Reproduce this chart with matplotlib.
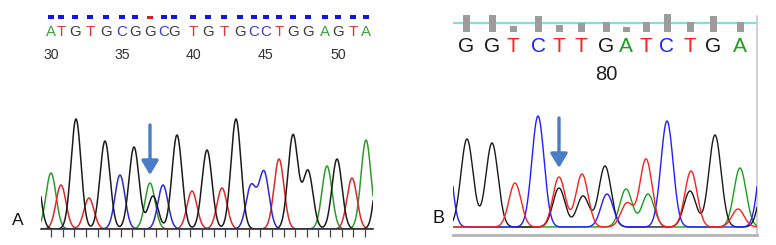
import numpy as np
import matplotlib
matplotlib.use("Agg")
import matplotlib.pyplot as plt
from matplotlib.transforms import blended_transform_factory as btf

W, H = 776, 245

# ---------------- Panel A data ----------------
a_seq = list("ATGTGCGGCGTGTGCCTGGAGTA")
a_base_pos = [10, 20, 34, 49, 65, 81, 94, 109, 123, 133, 152, 167, 183, 199,
              213, 225, 238, 252, 267, 284, 297, 312, 325]
a_qual = [40] * 7 + [25] + [40] * 15
a_numbers = [30, 35, 40, 45, 50]
a_number_idx = [0, 5, 10, 15, 20]

a_peaks_G = [-6, 35, 64, 93, 112, 136, 166, 195, 252, 267, 296, 340]
a_heights_G = [66, 110, 88, 82, 33, 94, 79, 110, 94, 58, 70, 100]
a_peaks_A = [10, 109, 286, 325]
a_heights_A = [56, 46, 63, 89]
a_peaks_T = [20, 48, 151, 181, 238, 311]
a_heights_T = [44, 31, 38, 41, 70, 51]
a_peaks_C = [79, 122, 210, 223]
a_heights_C = [54, 44, 43, 57]
a_ticks = [10, 21.6, 33.3, 44.9, 56.5, 68.1, 79.8, 91.4, 103, 114.7, 126.3,
           137.9, 149.5, 161.2, 172.8, 184.4, 196.1, 207.7, 219.3, 230.9,
           242.6, 254.2, 265.8, 277.4, 289.1, 300.7, 312.3, 324]
a_arrow_x = 109

# ---------------- Panel B data ----------------
b_seq = list("GGTCTTGATCTGA")
b_base_pos = [13, 39, 60, 85, 106, 128, 153, 173, 193, 214, 237, 260, 287]
b_qual = [43, 43, 15, 40, 18, 23, 25, 14, 25, 45, 25, 40, 25]
b_qual_threshold = 24
b_number = 80
b_number_idx = 6

b_peaks_G = [14, 39, 106, 130, 152, 237, 262, 313]
b_heights_G = [88, 84, 39, 31, 61, 36, 92, 58]
b_peaks_T = [62, 106, 129, 174, 193, 238, 285]
b_heights_T = [44, 50, 53, 24, 68, 56, 18]
b_peaks_C = [-9, 85, 154, 214, 312]
b_heights_C = [120, 111, 33, 106, 95]
b_peaks_A = [173, 195, 287]
b_heights_A = [38, 33, 59]
b_arrow_x = 106

# ---------------- styling ----------------
colA = {"A": "#2e9a2e", "C": "#2a2ad8", "G": "#1c1c1c", "T": "#e02828"}
colA_txt = {"A": "#3aa03a", "C": "#3a3ad0", "G": "#3c3c3c", "T": "#e03434"}
colB = {"A": "#1aa01a", "C": "#1f1fff", "G": "#1a1a1a", "T": "#ff1f1f"}
arrow_col = "#4a7cc8"


def trace(x, centers, heights, sigma):
    y = np.zeros_like(x)
    for c, h in zip(centers, heights):
        y += h * np.exp(-(x - c) ** 2 / (2 * sigma ** 2))
    return y


fig = plt.figure(figsize=(W / 100, H / 100), dpi=100)
fig.patch.set_facecolor("white")


def px_axes(left, right, top, bottom):
    return fig.add_axes([left / W, 1 - bottom / H, (right - left) / W, (bottom - top) / H])


def fy(py):
    return 1 - py / H


# ================= Panel A =================
axA = px_axes(41, 373, 110, 229)
axA.set_xlim(0, 332)
axA.set_ylim(0, 119)
axA.patch.set_alpha(0)
for s in ("top", "left", "right"):
    axA.spines[s].set_visible(False)
axA.spines["bottom"].set_color("#333333")
axA.spines["bottom"].set_linewidth(1.2)
axA.set_yticks([])
axA.set_xticks(a_ticks)
axA.set_xticklabels([])
axA.tick_params(axis="x", direction="out", length=5.5, width=0.9, color="#444444")

xa = np.linspace(0, 332, 3000)
for base, pk, hh in (("A", a_peaks_A, a_heights_A), ("T", a_peaks_T, a_heights_T),
                     ("C", a_peaks_C, a_heights_C), ("G", a_peaks_G, a_heights_G)):
    axA.plot(xa, trace(xa, pk, hh, 5.0), color=colA[base], lw=1.1)

axA.annotate("", xy=(a_arrow_x, 54), xytext=(a_arrow_x, 104),
             arrowprops=dict(arrowstyle="-|>,head_length=0.5,head_width=0.3",
                             mutation_scale=17, lw=2.4, color=arrow_col,
                             shrinkA=0, shrinkB=0))

# header A: quality dashes, letters, numbers
axAq = px_axes(41, 373, 10, 19)
axAq.set_xlim(0, 332)
axAq.set_ylim(0, 90)
axAq.axis("off")
axAq.bar(a_base_pos, a_qual, width=5.5,
         color=["#1414e6" if q >= 30 else "#d42020" for q in a_qual])

trA = btf(axA.transData, fig.transFigure)
for x, b in zip(a_base_pos, a_seq):
    fig.text(x, fy(32), b, transform=trA, ha="center", va="center",
             fontsize=10.8, color=colA_txt[b], family="Liberation Sans")
for n, i in zip(a_numbers, a_number_idx):
    fig.text(a_base_pos[i], fy(55), str(n), transform=trA, ha="center", va="center",
             fontsize=10.2, color="#333333", family="Liberation Sans")

fig.text(18 / W, fy(220), "A", ha="center", va="center", fontsize=12.5,
         color="#111111", family="Liberation Sans")

# ================= Panel B =================
frameB = px_axes(453, 757, 16, 235)
frameB.set_xticks([])
frameB.set_yticks([])
frameB.patch.set_alpha(0)
for s in ("top", "left"):
    frameB.spines[s].set_visible(False)
frameB.spines["bottom"].set_color("#b4b4b4")
frameB.spines["bottom"].set_linewidth(2.0)
frameB.spines["right"].set_color("#c4c4c4")
frameB.spines["right"].set_linewidth(1.1)

axB = px_axes(453, 757, 108, 235)
axB.set_xlim(0, 304)
axB.set_ylim(-8, 119)
axB.axis("off")
xb = np.linspace(0, 304, 3000)
for base, pk, hh in (("A", b_peaks_A, b_heights_A), ("G", b_peaks_G, b_heights_G),
                     ("C", b_peaks_C, b_heights_C), ("T", b_peaks_T, b_heights_T)):
    axB.plot(xb, trace(xb, pk, hh, 6.1), color=colB[base], lw=1.0)

axB.annotate("", xy=(b_arrow_x, 59), xytext=(b_arrow_x, 109),
             arrowprops=dict(arrowstyle="-|>,head_length=0.5,head_width=0.3",
                             mutation_scale=17, lw=2.4, color=arrow_col,
                             shrinkA=0, shrinkB=0))

axBq = px_axes(453, 757, 8, 32.5)
axBq.set_xlim(0, 304)
axBq.set_ylim(0, 61)
axBq.axis("off")
axBq.bar(b_base_pos, b_qual, width=7, color="#9c9c9c")
axBq.axhline(b_qual_threshold, color="#86dcd6", lw=1.6, zorder=0)

trB = btf(axB.transData, fig.transFigure)
for x, b in zip(b_base_pos, b_seq):
    fig.text(x, fy(47), b, transform=trB, ha="center", va="center",
             fontsize=15, color=colB[b], family="Liberation Sans")
fig.text(b_base_pos[b_number_idx], fy(75), str(b_number), transform=trB,
         ha="center", va="center", fontsize=14.5, color="#222222",
         family="Liberation Sans")

fig.text(438 / W, fy(218), "B", ha="center", va="center", fontsize=13,
         color="#111111", family="Liberation Sans")

fig.savefig("out.png", dpi=100, facecolor="white")
